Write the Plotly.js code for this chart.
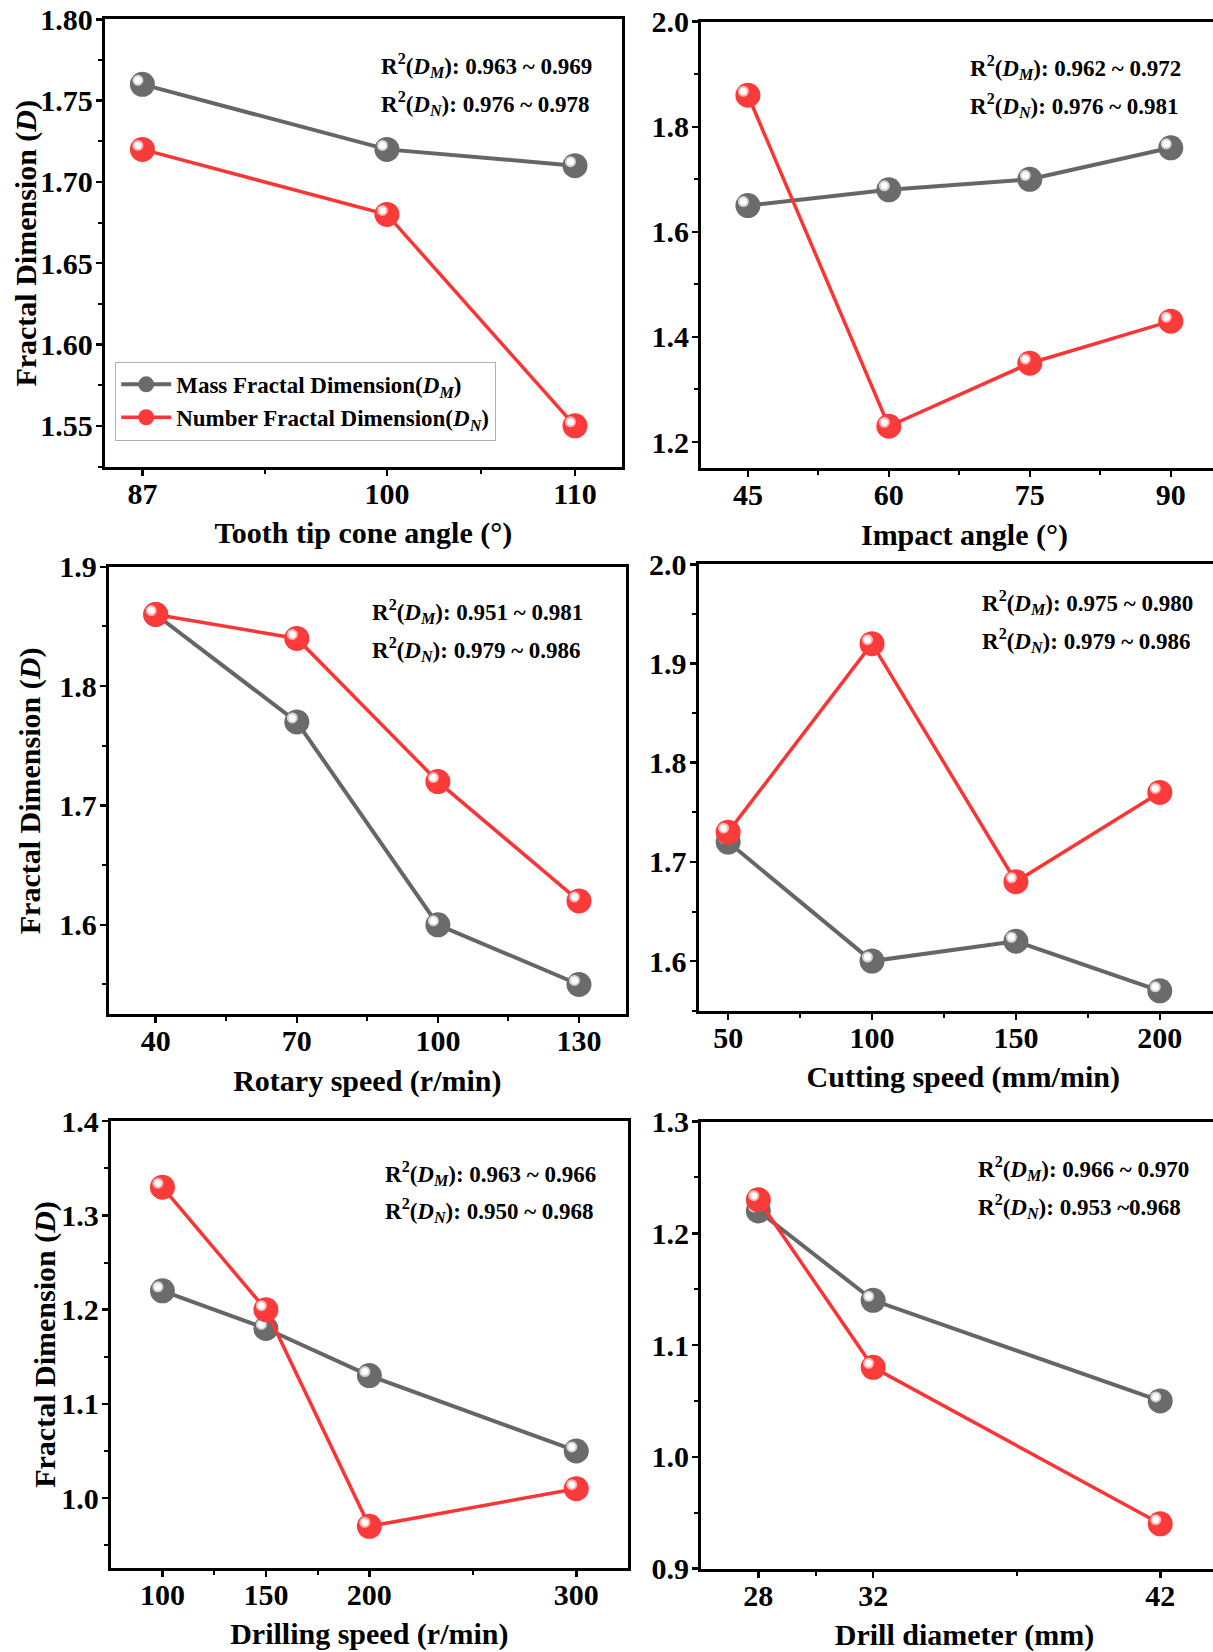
<!DOCTYPE html>
<html><head><meta charset="utf-8">
<script src="https://cdn.plot.ly/plotly-3.0.1.min.js"></script>
<style>html,body{margin:0;padding:0;overflow:hidden;background:#fff;} #chart{width:1240px;height:1652px;}</style>
</head><body><div id="chart"></div><script>
// ---------------- data ----------------
const toothAngle = [87, 100, 110];
const toothDM = [1.76, 1.72, 1.71];
const toothDN = [1.72, 1.68, 1.55];
const toothMinor = [93.5, 105];

const impactAngle = [45, 60, 75, 90];
const impactDM = [1.65, 1.68, 1.70, 1.76];
const impactDN = [1.86, 1.23, 1.35, 1.43];
const impactMinor = [52.5, 67.5, 82.5];

const rotarySpeed = [40, 70, 100, 130];
const rotaryDM = [1.86, 1.77, 1.60, 1.55];
const rotaryDN = [1.86, 1.84, 1.72, 1.62];
const rotaryMinor = [55, 85, 115];

const cuttingSpeed = [50, 100, 150, 200];
const cuttingDM = [1.72, 1.60, 1.62, 1.57];
const cuttingDN = [1.73, 1.92, 1.68, 1.77];
const cuttingMinor = [75, 125, 175];

const drillingSpeed = [100, 150, 200, 300];
const drillingDM = [1.22, 1.18, 1.13, 1.05];
const drillingDN = [1.33, 1.20, 0.97, 1.01];
const drillingMinor = [125, 175, 250];

const drillDiameter = [28, 32, 42];
const diameterDM = [1.22, 1.14, 1.05];
const diameterDN = [1.23, 1.08, 0.94];
const diameterMinor = [30, 37];

const xTitles = ['Tooth tip cone angle (°)', 'Impact angle (°)', 'Rotary speed (r/min)',
                 'Cutting speed (mm/min)', 'Drilling speed (r/min)', 'Drill diameter (mm)'];
const r2DM = ['0.963 ~ 0.969', '0.962 ~ 0.972', '0.951 ~ 0.981', '0.975 ~ 0.980', '0.963 ~ 0.966', '0.966 ~ 0.970'];
const r2DN = ['0.976 ~ 0.978', '0.976 ~ 0.981', '0.979 ~ 0.986', '0.979 ~ 0.986', '0.950 ~ 0.968', '0.953 ~0.968'];
const yTitle = 'Fractal Dimension (<i>D</i>)';
const nameDM = 'Mass Fractal Dimension(<i>D</i><sub><i>M</i></sub>)';
const nameDN = 'Number Fractal Dimension(<i>D</i><sub><i>N</i></sub>)';

// ---------------- layout config ----------------
const W = 1240, H = 1652;
const FONT = 'Liberation Serif, Times New Roman, serif';
const GRAY = '#6b6b6b', RED = '#fb3a3a';
const BIG = 30, SMALL = 23;

const panels = [
  {x: toothAngle, dm: toothDM, dn: toothDN, minor: toothMinor, box: [104.8, 622, 19.3, 466.5],
   xr: [85, 112.5], yr: [1.525, 1.80], tick0: 1.55, dtick: 0.05, fmt: '.2f', ytitleX: 25.7, r2: [379, 65, 103.5]},
  {x: impactAngle, dm: impactDM, dn: impactDN, minor: impactMinor, box: [700.9, 1228, 21.7, 468.3],
   xr: [40, 96.09], yr: [1.15, 2.0], tick0: 1.2, dtick: 0.2, fmt: '.1f', ytitleX: null, r2: [967.5, 67, 105.2]},
  {x: rotarySpeed, dm: rotaryDM, dn: rotaryDN, minor: rotaryMinor, box: [108.7, 626, 566.8, 1014.3],
   xr: [30, 140], yr: [1.525, 1.9], tick0: 1.6, dtick: 0.1, fmt: '.1f', ytitleX: 29.7, r2: [369.7, 611.4, 649.6]},
  {x: cuttingSpeed, dm: cuttingDM, dn: cuttingDN, minor: cuttingMinor, box: [698.5, 1228, 564.3, 1010.7],
   xr: [39.7, 223.7], yr: [1.55, 2.0], tick0: 1.6, dtick: 0.1, fmt: '.1f', ytitleX: null, r2: [980.4, 602.5, 640]},
  {x: drillingSpeed, dm: drillingDM, dn: drillingDN, minor: drillingMinor, box: [110.7, 628, 1121.2, 1567.8],
   xr: [75, 325], yr: [0.926, 1.4], tick0: 1.0, dtick: 0.1, fmt: '.1f', ytitleX: 44.3, r2: [382.8, 1173.2, 1210.8]},
  {x: drillDiameter, dm: diameterDM, dn: diameterDN, minor: diameterMinor, box: [700.9, 1228, 1121.5, 1568.5],
   xr: [26, 44.36], yr: [0.9, 1.3], tick0: 0.9, dtick: 0.1, fmt: '.1f', ytitleX: null, r2: [976, 1168.9, 1206.5]}
];

const traces = [];
const layout = {
  width: W, height: H, margin: {l: 0, r: 0, t: 0, b: 0},
  paper_bgcolor: '#fff', plot_bgcolor: 'rgba(0,0,0,0)',
  font: {family: FONT, size: BIG, color: '#000', weight: 'bold'},
  showlegend: true,
  legend: {x: 115 / W, y: 1 - 361.7 / H, xanchor: 'left', yanchor: 'top',
           bgcolor: 'rgba(255,255,255,0.9)', bordercolor: '#b0b0b0', borderwidth: 1.2,
           font: {family: FONT, size: SMALL, weight: 'bold'}, itemwidth: 50, tracegroupgap: 0},
  annotations: []
};

const HL_DX = 4.5, HL_DY = 4.0; // highlight offset in px (up-left)

panels.forEach((p, i) => {
  const n = i + 1;
  const [L, R, T, B] = p.box;
  const dom = {x: [L / W, R / W], y: [1 - B / H, 1 - T / H]};
  const wpx = R - L, hpx = B - T;
  const dx = HL_DX * (p.xr[1] - p.xr[0]) / wpx;
  const dy = HL_DY * (p.yr[1] - p.yr[0]) / hpx;
  const sfx = n === 1 ? '' : String(n);

  layout['xaxis' + sfx] = {
    domain: dom.x, anchor: 'y' + sfx, range: p.xr, type: 'linear',
    showline: true, linecolor: '#000', linewidth: 3, mirror: true,
    showgrid: false, zeroline: false,
    tickmode: 'array', tickvals: p.x, ticks: 'outside', ticklen: 6, tickwidth: 2.5, tickcolor: '#000',
    ticklabelstandoff: -8,
    minor: {tickmode: 'array', tickvals: p.minor, ticks: 'outside', ticklen: 4, tickwidth: 2, tickcolor: '#000'},
    tickfont: {family: FONT, size: BIG, weight: 'bold'},
    title: {text: xTitles[i], font: {family: FONT, size: BIG, weight: 'bold'}, standoff: 14},
    fixedrange: true
  };
  layout['yaxis' + sfx] = {
    domain: dom.y, anchor: 'x' + sfx, range: p.yr, type: 'linear',
    showline: true, linecolor: '#000', linewidth: 3, mirror: true,
    showgrid: false, zeroline: false,
    tickmode: 'linear', tick0: p.tick0, dtick: p.dtick, tickformat: p.fmt,
    ticks: 'outside', ticklen: 6, tickwidth: 2.5, tickcolor: '#000',
    ticklabelstandoff: -3,
    minor: {dtick: p.dtick / 2, tick0: p.tick0, ticks: 'outside', ticklen: 4, tickwidth: 2, tickcolor: '#000'},
    tickfont: {family: FONT, size: BIG, weight: 'bold'},
    fixedrange: true
  };

  // overlay axes: k=1 gray highlight (shifted), k=2 red main (unshifted), k=3 red highlight (shifted)
  const ids = [];
  for (let k = 1; k <= 3; k++) {
    const id = n + 6 * k;
    ids.push(id);
    const shifted = (k !== 2);
    layout['xaxis' + id] = {overlaying: 'x' + sfx, anchor: 'y' + id, visible: false, fixedrange: true,
      range: shifted ? [p.xr[0] + dx, p.xr[1] + dx] : p.xr};
    layout['yaxis' + id] = {overlaying: 'y' + sfx, anchor: 'x' + id, visible: false, fixedrange: true,
      range: shifted ? [p.yr[0] - dy, p.yr[1] - dy] : p.yr};
  }

  traces.push({x: p.x, y: p.dm, xaxis: 'x' + sfx, yaxis: 'y' + sfx, type: 'scatter', mode: 'lines+markers',
    name: nameDM, legendgroup: 'dm', showlegend: i === 0,
    line: {color: '#666666', width: 4}, marker: {color: GRAY, size: 25}, cliponaxis: false, hoverinfo: 'skip'});
  traces.push({x: p.x, y: p.dm, xaxis: 'x' + ids[0], yaxis: 'y' + ids[0], type: 'scatter', mode: 'markers',
    showlegend: false, legendgroup: 'dm',
    marker: {color: '#ffffff', size: 9, line: {color: '#d4d4d4', width: 2}}, cliponaxis: false, hoverinfo: 'skip'});
  traces.push({x: p.x, y: p.dn, xaxis: 'x' + ids[1], yaxis: 'y' + ids[1], type: 'scatter', mode: 'lines+markers',
    name: nameDN, legendgroup: 'dn', showlegend: i === 0,
    line: {color: '#fa3535', width: 3.5}, marker: {color: RED, size: 25}, cliponaxis: false, hoverinfo: 'skip'});
  traces.push({x: p.x, y: p.dn, xaxis: 'x' + ids[2], yaxis: 'y' + ids[2], type: 'scatter', mode: 'markers',
    showlegend: false, legendgroup: 'dn',
    marker: {color: '#ffffff', size: 9, line: {color: '#ffb3b3', width: 2}}, cliponaxis: false, hoverinfo: 'skip'});

  // y-axis title (left column only)
  if (p.ytitleX !== null) {
    layout.annotations.push({xref: 'paper', yref: 'paper', x: p.ytitleX / W, y: 1 - (T + B) / 2 / H,
      xanchor: 'center', yanchor: 'middle', textangle: -90, showarrow: false, text: yTitle,
      font: {family: FONT, size: BIG, weight: 'bold'}});
  }

  // R² annotations
  const [ax, y1, y2] = p.r2;
  layout.annotations.push({xref: 'paper', yref: 'paper', x: ax / W, y: 1 - y1 / H, xanchor: 'left', yanchor: 'middle',
    showarrow: false, text: 'R<sup>2</sup>(<i>D</i><sub><i>M</i></sub>): ' + r2DM[i],
    font: {family: FONT, size: SMALL, weight: 'bold'}});
  layout.annotations.push({xref: 'paper', yref: 'paper', x: ax / W, y: 1 - y2 / H, xanchor: 'left', yanchor: 'middle',
    showarrow: false, text: 'R<sup>2</sup>(<i>D</i><sub><i>N</i></sub>): ' + r2DN[i],
    font: {family: FONT, size: SMALL, weight: 'bold'}});
});

Plotly.newPlot('chart', traces, layout, {staticPlot: true, displayModeBar: false});
</script></body></html>
